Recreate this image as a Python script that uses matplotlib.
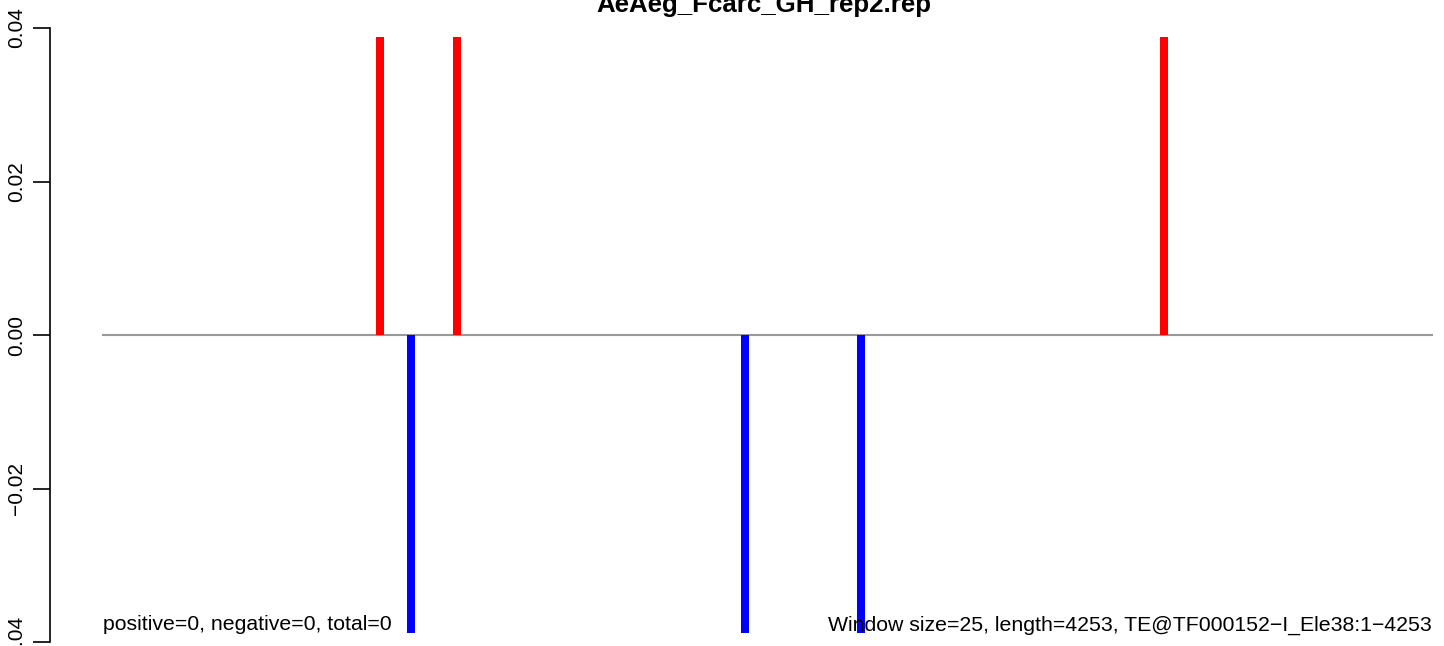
import matplotlib
matplotlib.use("Agg")
import matplotlib.pyplot as plt

plt.rcParams['font.family'] = ['Liberation Sans', 'DejaVu Sans']

title = "AeAeg_Fcarc_GH_rep2.rep"
seq_length = 4253
window = 25
pos_x = [886, 1132, 3395]
pos_y = [0.0388, 0.0388, 0.0388]
neg_x = [985, 2054, 2426]
neg_y = [-0.0388, -0.0388, -0.0388]
yticks = [-0.04, -0.02, 0.0, 0.02, 0.04]
ytick_labels = ["\u22120.04", "\u22120.02", "0.00", "0.02", "0.04"]
left_note = "positive=0, negative=0, total=0"
right_note = "Window size=25, length=4253, TE@TF000152\u2212I_Ele38:1\u22124253"

W, H = 1444, 646
fig = plt.figure(figsize=(W / 100, H / 100), dpi=100)
ax = fig.add_axes([50 / W, (H - 642) / H, (1485 - 50) / W, (642 - 28) / H])
ax.set_xlim(-0.04 * seq_length, 1.04 * seq_length)
ax.set_ylim(-0.04, 0.04)

ax.plot([0, seq_length], [0, 0], color='#999999', lw=1.5, zorder=1)
ax.bar(pos_x, pos_y, width=window, color='#ff0000', zorder=2)
ax.bar(neg_x, neg_y, width=window, color='#0000ff', zorder=2)

for s in ['top', 'right', 'bottom']:
    ax.spines[s].set_visible(False)
ax.spines['left'].set_linewidth(1.2)
ax.spines['left'].set_bounds(-0.04, 0.04)
ax.set_xticks([])
ax.set_yticks(yticks)
ax.set_yticklabels(ytick_labels, rotation=90, va='center', fontsize=15)
ax.tick_params(axis='y', length=12, width=1.2, pad=5.5)

ax.text(0, -0.0385, left_note, fontsize=15.3, ha='left', va='baseline', zorder=3)
ax.text(seq_length, -0.0385, right_note, fontsize=15.3, ha='right', va='baseline', zorder=3)

fig.text(764 / W, (H - 12) / H, title, fontsize=18.6, fontweight='bold',
         ha='center', va='baseline')

fig.savefig("out.png", dpi=100)
